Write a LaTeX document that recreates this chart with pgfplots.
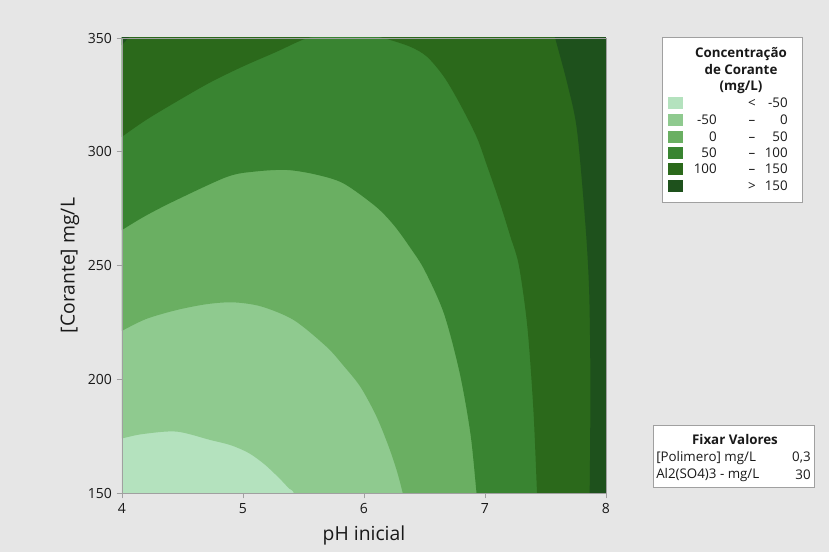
\documentclass[border=0pt]{standalone}
\usepackage{pgfplots}
\pgfplotsset{compat=1.18}
\usepackage{fontspec}
\setmainfont{Open Sans}

\definecolor{bg}{RGB}{230,230,230}
\definecolor{c1}{RGB}{180,226,190}
\definecolor{c2}{RGB}{143,202,143}
\definecolor{c3}{RGB}{106,175,98}
\definecolor{c4}{RGB}{57,132,49}
\definecolor{c5}{RGB}{43,105,27}
\definecolor{c6}{RGB}{30,81,28}
\definecolor{framegray}{RGB}{160,160,160}
\definecolor{txt}{RGB}{25,25,25}

\begin{document}
\begin{tikzpicture}
\begin{scope}[x=0.75pt,y=0.75pt]
\fill[bg] (0,0) rectangle (829,552);
\end{scope}
\begin{axis}[
  at={(91.5pt,44.25pt)}, anchor=south west,
  scale only axis, width=363pt, height=341.25pt,
  xmin=4, xmax=8, ymin=150, ymax=350,
  xtick={4,5,6,7,8}, ytick={150,200,250,300,350},
  tick align=outside, tick pos=left, major tick length=4pt,
  axis line style={framegray, line width=0.6pt},
  tick style={framegray, line width=0.6pt},
  axis on top,
  /pgf/number format/assume math mode=true,
  ticklabel style={font=\fontsize{10.5}{12}\selectfont, text=txt},
  xlabel={pH inicial}, ylabel={[Corante] mg/L},
  every axis x label/.style={at={(axis description cs:0.5,0)}, anchor=base,
    yshift=-36pt, font=\fontsize{14.5}{17}\selectfont, text=txt},
  every axis y label/.style={at={(axis description cs:0,0.5)}, xshift=-39pt,
    rotate=90, anchor=center, font=\fontsize{14.5}{17}\selectfont, text=txt},
  level/.style={fill=#1, draw=none, smooth, tension=0.5},
]
% base level (< -50)
\addplot[fill=c1, draw=none] coordinates {(3.7,140) (8.3,140) (8.3,360) (3.7,360)} --cycle;
% z > -50
\addplot[level=c2] coordinates {
  (3.9,173) (4,174) (4.17,175.9) (4.45,177) (4.73,173.3) (4.9,171) (5.05,167.5)
  (5.18,162.5) (5.3,156.5) (5.38,152) (5.42,150) (5.46,140)
  (8.3,140) (8.3,360) (3.7,360) (3.7,172)} --cycle;
% z > 0
\addplot[level=c3] coordinates {
  (3.9,218.5) (4,221.3) (4.2,226.5) (4.45,230.4) (4.7,233) (4.92,233.8) (5.15,232)
  (5.42,226) (5.69,214.3) (5.83,206) (5.97,196.7) (6.1,184) (6.2,171)
  (6.27,160) (6.32,150) (6.36,140) (8.3,140) (8.3,360) (3.7,360) (3.7,216)} --cycle;
% z > 50
\addplot[level=c4] coordinates {
  (3.9,262) (4,265.6) (4.2,272) (4.45,278.8) (4.87,289) (5.1,291.3) (5.36,292)
  (5.6,290) (5.83,286.1) (6.1,275.8) (6.25,267.5) (6.38,258) (6.5,248)
  (6.66,229) (6.79,203) (6.88,176) (6.93,150) (6.95,140)
  (8.3,140) (8.3,360) (3.7,360) (3.7,258)} --cycle;
% z > 100, upper left
\addplot[level=c5] coordinates {
  (3.9,302.5) (4,306.6) (4.2,314) (4.45,322) (4.73,330.5) (5.0,337.5) (5.28,344)
  (5.44,348) (5.55,350.2) (5.75,352) (5.8,360) (3.7,360) (3.7,296)} --cycle;
% z > 100, right
\addplot[level=c5] coordinates {
  (5.95,352.5) (6.16,350) (6.38,346.2) (6.52,341.8) (6.66,333) (6.79,321.3)
  (6.93,306.6) (7.01,294.9) (7.12,278) (7.21,262.7) (7.28,250) (7.35,223.1)
  (7.40,186.5) (7.43,150) (7.44,140) (8.3,140) (8.3,360) (5.9,360)} --cycle;
% z > 150, right band
\addplot[level=c6] coordinates {
  (7.55,357) (7.58,350) (7.68,330) (7.76,309.6) (7.83,268) (7.86,240)
  (7.87,208.5) (7.87,180) (7.865,150) (7.86,140) (8.3,140) (8.3,360) (7.5,360)} --cycle;
% z > 150, upper left corner
\addplot[fill=c6, draw=none] coordinates {(3.95,344) (4.06,350.5) (3.95,350.5)} --cycle;
\end{axis}

\begin{scope}[x=0.75pt,y=0.75pt]
% colour key
\draw[framegray, fill=white, line width=0.6pt] (662,350) rectangle (802,515);
\begin{scope}[every node/.style={font=\fontsize{10}{12}\selectfont, text=txt, inner sep=0pt}]
\node[font=\fontsize{10}{12}\selectfont\bfseries] at (741,498) {Concentração};
\node[font=\fontsize{10}{12}\selectfont\bfseries] at (741,482) {de Corante};
\node[font=\fontsize{10}{12}\selectfont\bfseries] at (741,465) {(mg/L)};
\foreach \c/\y in {c1/449.3, c2/432.0, c3/415.3, c4/398.7, c5/382.7, c6/366.0}{
  \fill[\c] (668,\y-6) rectangle (683,\y+6);
}
\foreach \y/\lo/\sym/\hi in {449.3//</-50, 432.0/-50/–/0, 415.3/0/–/50,
    398.7/50/–/100, 382.7/100/–/150, 366.0//>/150}{
  \node[anchor=base east] at (717,\y-4.5) {\lo};
  \node[anchor=base] at (752,\y-4.5) {\sym};
  \node[anchor=base east] at (788,\y-4.5) {\hi};
}
\end{scope}

% fixed factor settings
\draw[framegray, fill=white, line width=0.6pt] (653,65) rectangle (814,127);
\begin{scope}[every node/.style={font=\fontsize{10}{12}\selectfont, text=txt, inner sep=0pt}]
\node[font=\fontsize{10}{12}\selectfont\bfseries] at (735,112) {Fixar Valores};
\node[anchor=west] at (656,94.3) {[Polimero] mg/L};
\node[anchor=east] at (811,94.3) {0,3};
\node[anchor=west] at (656,77) {Al2(SO4)3 - mg/L};
\node[anchor=east] at (811,77) {30};
\end{scope}
\end{scope}
\end{tikzpicture}
\end{document}
